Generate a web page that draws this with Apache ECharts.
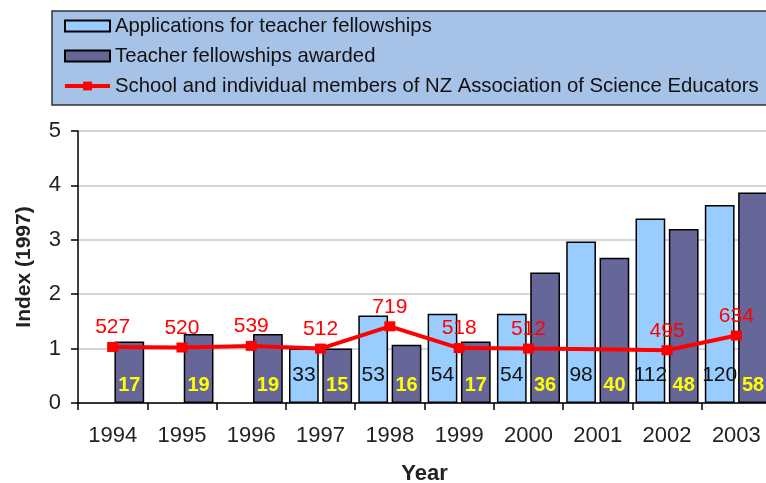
<!DOCTYPE html>
<html>
<head>
<meta charset="utf-8">
<script src="https://cdn.jsdelivr.net/npm/echarts@6/dist/echarts.min.js"></script>
<style>html,body{margin:0;padding:0;background:#fff;}#c{width:766px;height:483px;}</style>
</head>
<body>
<div id="c"></div>
<script>
const years = ['1994','1995','1996','1997','1998','1999','2000','2001','2002','2003'];
const applicationsIndex = [null, null, null, 1.00, 1.61, 1.64, 1.64, 2.97, 3.39, 3.64];
const applicationsCount = [null, null, null, 33, 53, 54, 54, 98, 112, 120];
const awardedIndex = [1.13, 1.27, 1.27, 1.00, 1.07, 1.13, 2.40, 2.67, 3.20, 3.87];
const awardedCount = [17, 19, 19, 15, 16, 17, 36, 40, 48, 58];
const membersIndex = [1.03, 1.02, 1.05, 1.00, 1.41, 1.01, 1.00, 0.99, 0.97, 1.24];
const membersCount = [527, 520, 539, 512, 719, 518, 512, null, 495, 634];
const yTicks = [0, 1, 2, 3, 4, 5];

const FONT = '"Liberation Sans", Arial, sans-serif';
const names = [
  'Applications for teacher fellowships',
  'Teacher fellowships awarded',
  'School and individual members of NZ Association of Science Educators'
];

const chart = echarts.init(document.getElementById('c'), null, {renderer: 'canvas'});
chart.setOption({
  backgroundColor: '#ffffff',
  animation: false,
  textStyle: {fontFamily: FONT},
  legend: {
    orient: 'vertical',
    left: 52,
    top: 11,
    padding: [5, 20, 9, 11],
    itemWidth: 45,
    itemHeight: 11,
    itemGap: 10,
    backgroundColor: '#A6C3E7',
    borderColor: '#333333',
    borderWidth: 1.5,
    textStyle: {fontFamily: FONT, fontSize: 20.3, color: '#111111'},
    data: [
      {name: names[0], icon: 'rect'},
      {name: names[1], icon: 'rect'},
      {name: names[2], lineStyle: {width: 4, color: '#FF0000'}}
    ]
  },
  grid: {left: 78, top: 131, width: 693, height: 272, outerBoundsMode: 'none', containLabel: false},
  xAxis: {
    type: 'category',
    data: years,
    name: 'Year',
    nameLocation: 'middle',
    nameGap: 60,
    nameTextStyle: {fontFamily: FONT, fontSize: 22, fontWeight: 'bold', color: '#222'},
    axisLine: {lineStyle: {color: '#000', width: 1.5}},
    axisTick: {show: true, length: 7, lineStyle: {color: '#000', width: 1.5}},
    axisLabel: {fontFamily: FONT, fontSize: 22, color: '#222', margin: 22}
  },
  yAxis: {
    type: 'value',
    min: yTicks[0],
    max: yTicks[yTicks.length - 1],
    interval: 1,
    name: 'Index (1997)',
    nameLocation: 'middle',
    nameGap: 43,
    nameTextStyle: {fontFamily: FONT, fontSize: 21, fontWeight: 'bold', color: '#222'},
    axisLine: {show: true, lineStyle: {color: '#000', width: 1.5}},
    axisTick: {show: true, length: 7, lineStyle: {color: '#000', width: 1.5}},
    axisLabel: {fontFamily: FONT, fontSize: 22, color: '#222', margin: 17},
    splitLine: {lineStyle: {color: '#c8c8c8', width: 1.5}}
  },
  series: [
    {
      name: names[0],
      type: 'bar',
      data: applicationsIndex,
      barCategoryGap: '9%',
      barGap: '12%',
      itemStyle: {color: '#99CCFF', borderColor: '#000', borderWidth: 1.5},
      label: {
        show: true,
        position: 'insideBottom',
        distance: 17,
        fontFamily: FONT,
        fontSize: 21,
        color: '#111',
        formatter: p => applicationsCount[p.dataIndex] == null ? '' : String(applicationsCount[p.dataIndex])
      },
      z: 2
    },
    {
      name: names[1],
      type: 'bar',
      data: awardedIndex,
      barCategoryGap: '9%',
      barGap: '12%',
      itemStyle: {color: '#666699', borderColor: '#000', borderWidth: 1.5},
      label: {
        show: true,
        position: 'insideBottom',
        distance: 8,
        fontFamily: FONT,
        fontSize: 20,
        fontWeight: 'bold',
        color: '#FFFF00',
        formatter: p => String(awardedCount[p.dataIndex])
      },
      z: 2
    },
    {
      name: names[2],
      type: 'line',
      data: membersIndex.map((v, i) => membersCount[i] == null
        ? {value: v, symbol: 'none', label: {show: false}}
        : v),
      symbol: 'rect',
      symbolSize: [11, 10],
      showAllSymbol: true,
      lineStyle: {color: '#FF0000', width: 4},
      itemStyle: {color: '#FF0000'},
      label: {
        show: true,
        position: 'top',
        distance: 4,
        fontFamily: FONT,
        fontSize: 21,
        color: '#FF0000',
        formatter: p => membersCount[p.dataIndex] == null ? '' : String(membersCount[p.dataIndex])
      },
      z: 5
    }
  ]
});
</script>
</body>
</html>
